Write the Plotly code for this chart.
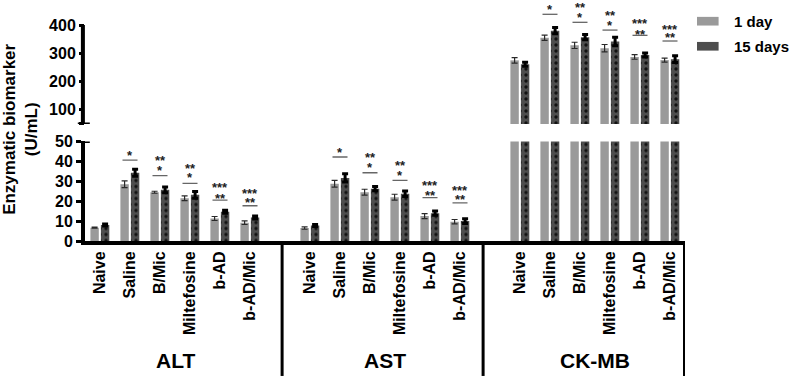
import plotly.graph_objects as go

# ---------------- data ----------------
categories = ["Naive", "Saline", "B/Mic", "Miltefosine", "b-AD", "b-AD/Mic"]
groups = ["ALT", "AST", "CK-MB"]
series_names = ["1 day", "15 days"]

alt_1day = [6.7, 28.5, 24.5, 21.5, 11.3, 9.2]
alt_1day_err = [0.3, 1.7, 0.5, 1.2, 1.0, 0.9]
alt_15days = [8.0, 34.3, 25.7, 23.2, 14.7, 11.8]
alt_15days_err = [0.5, 1.8, 1.4, 1.7, 0.7, 0.7]

ast_1day = [6.5, 28.8, 24.5, 22.0, 12.5, 9.7]
ast_1day_err = [0.6, 1.7, 1.5, 1.5, 1.3, 1.1]
ast_15days = [7.8, 31.7, 26.3, 23.7, 14.0, 10.0]
ast_15days_err = [0.5, 2.1, 1.1, 1.4, 1.1, 1.2]

ckmb_1day = [275, 355, 328, 318, 287, 276]
ckmb_1day_err = [10, 9, 11, 13, 8, 7]
ckmb_15days = [261, 380, 357, 342, 294, 279]
ckmb_15days_err = [7, 11, 9, 15, 7, 12]

# significance marks (text, and level in data units)
sig_lower_text = ["", "*", "*", "*", "**", "**"]
sig_upper_text = ["", "", "**", "**", "***", "***"]
alt_sig_line = [None, 40.6, 32.8, 29.0, 20.5, 17.7]
alt_sig_lower = [None, 45.1, 37.3, 33.8, 23.2, 21.3]
alt_sig_upper = [None, None, 42.6, 38.5, 28.8, 25.8]
ast_sig_line = [None, 42.2, 34.3, 30.5, 21.8, 19.2]
ast_sig_lower = [None, 46.5, 38.8, 34.8, 24.7, 22.7]
ast_sig_upper = [None, None, 43.8, 39.8, 29.8, 27.2]
ckmb_sig_line = [None, 437.8, 409.5, 382, 363.5, 343.4]
ckmb_sig_lower = [None, 470.7, 441.3, 414, 382, 370.6]
ckmb_sig_upper = [None, None, 476.7, 447, 421, 400]

y_low_ticks = [0, 10, 20, 30, 40, 50]
y_high_ticks = [50, 100, 200, 300, 400]
y_high_ticktext = ["", "100", "200", "300", "400"]

# ---------------- assembly ----------------
FONT = "Liberation Sans, Arial, sans-serif"
GRAY = "#9a9a9a"
DARK = "#4e4e4e"

ncat = len(categories)
positions = [g * (ncat + 1) + i for g in range(len(groups)) for i in range(ncat)]
ticktext = ["<b>%s</b>" % c for c in categories] * len(groups)

vals_1 = alt_1day + ast_1day + ckmb_1day
errs_1 = alt_1day_err + ast_1day_err + ckmb_1day_err
vals_15 = alt_15days + ast_15days + ckmb_15days
errs_15 = alt_15days_err + ast_15days_err + ckmb_15days_err

fig = go.Figure()
for yax in ["y", "y2"]:
    fig.add_trace(go.Bar(
        x=positions, y=vals_1, name=series_names[0], yaxis=yax, xaxis="x",
        offset=-0.32, width=0.28, showlegend=False,
        marker=dict(color=GRAY, line=dict(width=0)),
        error_y=dict(type="data", array=errs_1, color="#2a2a2a", thickness=1.2, width=3),
    ))
    fig.add_trace(go.Bar(
        x=positions, y=vals_15, name=series_names[1], yaxis=yax, xaxis="x",
        offset=0.03, width=0.28, showlegend=False,
        marker=dict(color=DARK, line=dict(width=0),
                    pattern=dict(shape=".", bgcolor=DARK, fgcolor="#111111",
                                 size=6, solidity=0.25, fillmode="replace")),
        error_y=dict(type="data", array=errs_15, color="black", thickness=3, width=3),
    ))

shapes = []
annotations = []

sig_sets = [
    (alt_sig_line, alt_sig_lower, alt_sig_upper, "y"),
    (ast_sig_line, ast_sig_lower, ast_sig_upper, "y"),
    (ckmb_sig_line, ckmb_sig_lower, ckmb_sig_upper, "y2"),
]
for g, (lines, lows, ups, yref) in enumerate(sig_sets):
    for i in range(ncat):
        xc = positions[g * ncat + i]
        if lines[i] is not None:
            shapes.append(dict(type="line", xref="x", yref=yref,
                               x0=xc - 0.25, x1=xc + 0.25, y0=lines[i], y1=lines[i],
                               line=dict(color="#666666", width=1.3)))
        for txt, yv in ((sig_lower_text[i], lows[i]), (sig_upper_text[i], ups[i])):
            if txt and yv is not None:
                annotations.append(dict(x=xc, y=yv, xref="x", yref=yref, text="<b>%s</b>" % txt,
                                        showarrow=False, yshift=-4,
                                        font=dict(family=FONT, size=13, color="#222222")))

# upper axis line and break caps
shapes.append(dict(type="line", xref="paper", yref="y2", x0=-0.0035, x1=-0.0035,
                   y0=y_high_ticks[0], y1=y_high_ticks[-1], line=dict(color="black", width=4)))
shapes.append(dict(type="line", xref="paper", yref="y2", x0=-0.012, x1=0.008,
                   y0=y_high_ticks[0], y1=y_high_ticks[0], line=dict(color="black", width=3)))
shapes.append(dict(type="line", xref="paper", yref="y", x0=-0.012, x1=0.008,
                   y0=y_low_ticks[-1], y1=y_low_ticks[-1], line=dict(color="black", width=3)))

# group dividers under the x axis
divider_x = [-0.6, 6.07, 12.77, 19.5]
divider_w = [4, 3, 3, 4]
for xv, w in zip(divider_x, divider_w):
    shapes.append(dict(type="line", xref="x", yref="paper", x0=xv, x1=xv, y0=0, y1=-0.56,
                       line=dict(color="black", width=w)))

# group labels
for g, name in enumerate(groups):
    gp = positions[g * ncat:(g + 1) * ncat]
    annotations.append(dict(x=sum(gp) / len(gp), y=-0.495, xref="x", yref="paper",
                            text="<b>%s</b>" % name, showarrow=False, yanchor="middle",
                            font=dict(family=FONT, size=21, color="black")))

# y title
annotations.append(dict(x=-0.108, y=0.462, xref="paper", yref="paper",
                        xanchor="center", yanchor="middle",
                        text="<b>Enzymatic biomarker</b><br><b>(U/mL)</b>", textangle=-90,
                        showarrow=False,
                        font=dict(family=FONT, size=17, color="black")))

# legend (custom)
leg = [(series_names[0], GRAY, 0.912), (series_names[1], DARK, 0.808)]
for name, col, yc in leg:
    shapes.append(dict(type="rect", xref="paper", yref="paper", x0=1.02, x1=1.056,
                       y0=yc - 0.018, y1=yc + 0.018, fillcolor=col, line=dict(width=0)))
    annotations.append(dict(x=1.078, y=yc, xref="paper", yref="paper", text="<b>%s</b>" % name,
                            xanchor="left", yanchor="middle", showarrow=False,
                            font=dict(family=FONT, size=15, color="black")))

fig.update_layout(
    width=789, height=381,
    margin=dict(l=85, r=104, t=0, b=140, autoexpand=False),
    paper_bgcolor="white", plot_bgcolor="white",
    showlegend=False,
    barmode="overlay",
    xaxis=dict(range=[-0.5, 19.5], tickvals=positions, ticktext=ticktext, tickangle=-90,
               ticks="", showline=True, linewidth=4, linecolor="black", showgrid=False,
               zeroline=False, anchor="y", automargin=False,
               tickfont=dict(family=FONT, size=16, color="black")),
    yaxis=dict(domain=[0, 0.4129], range=[0, 50], tickvals=y_low_ticks,
               ticktext=["<b>%d</b>" % v for v in y_low_ticks],
               ticks="outside", ticklen=5, tickwidth=3, tickcolor="black",
               showline=True, linewidth=4, linecolor="black", showgrid=False, zeroline=False,
               anchor="x", automargin=False,
               tickfont=dict(family=FONT, size=16, color="black")),
    yaxis2=dict(domain=[0.4855, 1], range=[50, 488.4], tickvals=y_high_ticks,
                ticktext=["<b>%s</b>" % t for t in y_high_ticktext],
                ticks="outside", ticklen=5, tickwidth=3, tickcolor="black",
                showline=False, showgrid=False, zeroline=False, anchor="x", automargin=False,
                tickfont=dict(family=FONT, size=16, color="black")),
    shapes=shapes,
    annotations=annotations,
)

fig.write_html("out.html", config={"displayModeBar": False},
               post_script="document.body.style.margin='0px';")
